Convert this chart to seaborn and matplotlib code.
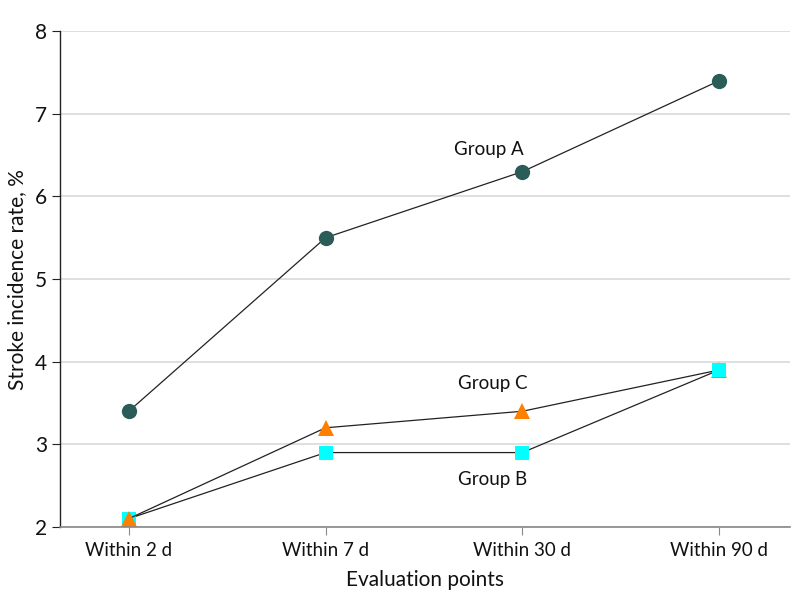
import pandas as pd
import matplotlib.pyplot as plt
import seaborn as sns
import numpy as np

# data
points = ['Within 2 d', 'Within 7 d', 'Within 30 d', 'Within 90 d']
group_a = [3.4, 5.5, 6.3, 7.4]
group_b = [2.1, 2.9, 2.9, 3.9]
group_c = [2.1, 3.2, 3.4, 3.9]

sns.set_style('white')
plt.rcParams['font.family'] = ['Lato', 'DejaVu Sans']

fig = plt.figure(figsize=(7.98, 6.12), dpi=100)
ax = fig.add_axes([0.075, 0.139, 0.915, 0.81])

ds_a = pd.DataFrame({'point': points, 'value': group_a})
ds_b = pd.DataFrame({'point': points, 'value': group_b})
ds_c = pd.DataFrame({'point': points, 'value': group_c})

line_kw = dict(color='#222222', linewidth=0.9, markeredgewidth=0)

sns.lineplot(x='point', y='value', data=ds_a, ax=ax, marker='o', markersize=11,
             markerfacecolor='#2b5c58', **line_kw)
sns.lineplot(x='point', y='value', data=ds_b, ax=ax, marker='s', markersize=9.5,
             markerfacecolor='#00ffff', **line_kw)
sns.lineplot(x='point', y='value', data=ds_c, ax=ax, marker='^', markersize=11.5,
             markerfacecolor='#ff7f00', **line_kw)
# the last Group B square sits on top of the triangle
ax.plot(points[-1:], group_b[-1:], linestyle='none', marker='s', markersize=9.5,
        markerfacecolor='#00ffff', markeredgewidth=0, zorder=5)

ax.text(1.83, 6.57, 'Group A', fontsize=13.5, ha='center', va='center', color='#111111')
ax.text(1.85, 3.73, 'Group C', fontsize=13.5, ha='center', va='center', color='#111111')
ax.text(1.85, 2.57, 'Group B', fontsize=13.5, ha='center', va='center', color='#111111')

ax.set_xlim(-0.35, 3.36)
ax.set_ylim(2, 8)
ax.set_yticks(np.arange(2, 9, 1))
ax.yaxis.grid(True, color='#d9d9d9', linewidth=1.2)
ax.set_axisbelow(True)

sns.despine(ax=ax)
ax.spines['left'].set_color('#222222')
ax.spines['left'].set_linewidth(1.0)
ax.spines['bottom'].set_color('#888888')
ax.spines['bottom'].set_linewidth(1.2)

ax.tick_params(axis='x', bottom=True, length=6, color='#888888', labelsize=13.5,
               labelcolor='#111111', pad=5)
ax.tick_params(axis='y', left=True, length=6, color='#222222', labelsize=15,
               labelcolor='#111111', pad=3)

ax.set_xlabel('Evaluation points', fontsize=15, labelpad=8, color='#111111')
ax.set_ylabel('Stroke incidence rate, %', fontsize=15, labelpad=6, color='#111111')

plt.savefig('out.png', dpi=100)
